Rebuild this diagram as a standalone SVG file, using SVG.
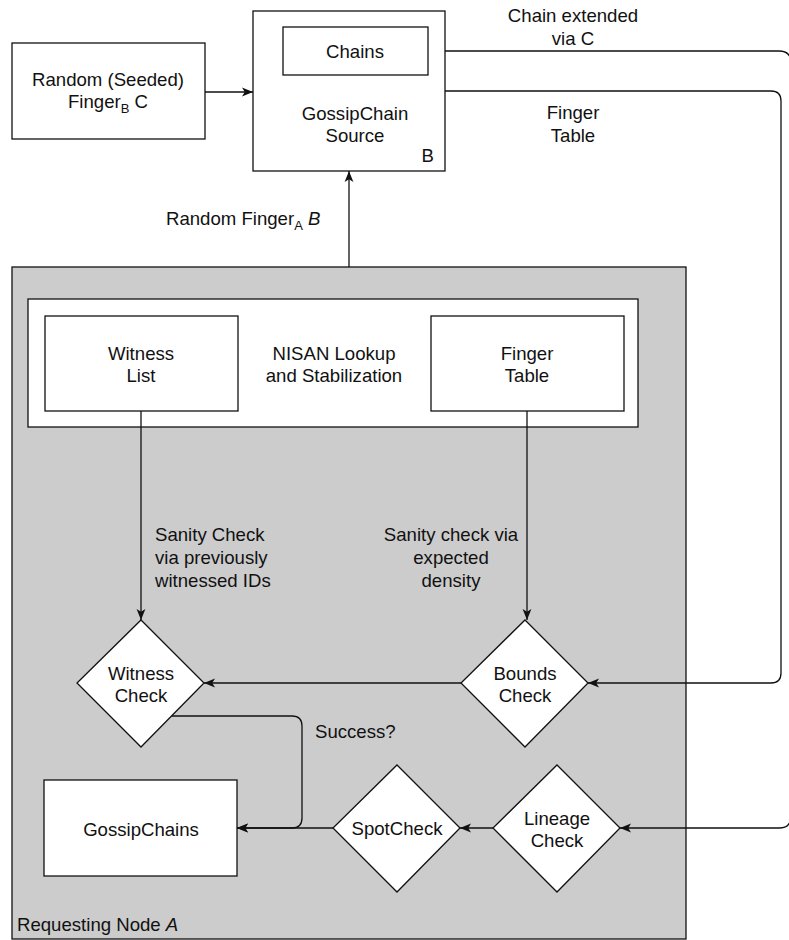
<svg xmlns="http://www.w3.org/2000/svg" width="789" height="940" viewBox="0 0 789 940">
  <style>
    text { font-family: "Liberation Sans", Arial, Helvetica, sans-serif; font-size: 18.6px; fill: #111; }
    .c { text-anchor: middle; }
    .box { fill: #ffffff; stroke: #111; stroke-width: 1.3; }
    .wire { fill: none; stroke: #111; stroke-width: 1.3; }
    .sub { font-size: 13px; }
  </style>
  <defs>
    <marker id="arrow" viewBox="0 0 10 10" refX="10" refY="5" markerWidth="11" markerHeight="11" markerUnits="userSpaceOnUse" orient="auto">
      <path d="M0,1 L10,5 L0,9 L2.5,5 Z" fill="#111"/>
    </marker>
  </defs>

  <rect width="789" height="940" fill="#ffffff"/>

  <!-- Requesting node container -->
  <g id="requesting-node">
    <rect x="12" y="267" width="674" height="672" fill="#cccccc" stroke="#111" stroke-width="1.3"/>
    <text x="17" y="931">Requesting Node <tspan font-style="italic">A</tspan></text>
  </g>

  <!-- Lookup/stabilization subsystem -->
  <g id="nisan">
    <rect class="box" x="28" y="299" width="610" height="128"/>
    <text class="c" x="334" y="360">NISAN Lookup</text>
    <text class="c" x="334" y="382">and Stabilization</text>
  </g>
  <g id="witness-list">
    <rect class="box" x="45" y="316" width="193" height="95"/>
    <text class="c" x="141" y="360">Witness</text>
    <text class="c" x="141" y="382">List</text>
  </g>
  <g id="finger-table">
    <rect class="box" x="431" y="316" width="193" height="95"/>
    <text class="c" x="527" y="360">Finger</text>
    <text class="c" x="527" y="382">Table</text>
  </g>

  <!-- Top row -->
  <g id="random-seeded">
    <rect class="box" x="12" y="43" width="193" height="96"/>
    <text class="c" x="108" y="86">Random (Seeded)</text>
    <text class="c" x="108" y="108">Finger<tspan class="sub" dy="5">B</tspan><tspan dy="-5"> C</tspan></text>
  </g>
  <g id="gossipchain-source">
    <rect class="box" x="253" y="11" width="192" height="160"/>
    <text class="c" x="355" y="120">GossipChain</text>
    <text class="c" x="355" y="142">Source</text>
    <text x="434" y="162" text-anchor="end">B</text>
  </g>
  <g id="chains">
    <rect class="box" x="283" y="27" width="145" height="48"/>
    <text class="c" x="355" y="58">Chains</text>
  </g>

  <!-- Decision diamonds -->
  <g id="witness-check">
    <polygon class="box" points="141,620 204,683 141,747 77,683"/>
    <text class="c" x="141" y="680">Witness</text>
    <text class="c" x="141" y="702">Check</text>
  </g>
  <g id="bounds-check">
    <polygon class="box" points="525,620 588,683 525,747 461,683"/>
    <text class="c" x="525" y="680">Bounds</text>
    <text class="c" x="525" y="702">Check</text>
  </g>
  <g id="spot-check">
    <polygon class="box" points="397,765 460,828 397,892 333,828"/>
    <text class="c" x="397" y="835">SpotCheck</text>
  </g>
  <g id="lineage-check">
    <polygon class="box" points="557,765 620,828 557,892 493,828"/>
    <text class="c" x="557" y="825">Lineage</text>
    <text class="c" x="557" y="847">Check</text>
  </g>
  <g id="gossipchains">
    <rect class="box" x="44" y="780" width="193" height="96"/>
    <text class="c" x="141" y="836">GossipChains</text>
  </g>

  <!-- Connectors -->
  <g id="connectors">
    <path class="wire" d="M205,92 H253" marker-end="url(#arrow)"/>
    <path class="wire" d="M349,267 V171" marker-end="url(#arrow)"/>
    <path class="wire" d="M445,51 H779 Q791,51 791,63 V816 Q791,828 779,828 H620" marker-end="url(#arrow)"/>
    <path class="wire" d="M445,91 H771 Q781,91 781,101 V673 Q781,683 771,683 H588" marker-end="url(#arrow)"/>
    <path class="wire" d="M141,411 V620" marker-end="url(#arrow)"/>
    <path class="wire" d="M527,411 V620" marker-end="url(#arrow)"/>
    <path class="wire" d="M461,683 H204" marker-end="url(#arrow)"/>
    <path class="wire" d="M172,716 H292 Q302,716 302,726 V818 Q302,828 292,828 H237" marker-end="url(#arrow)"/>
    <path class="wire" d="M333,828 H237" marker-end="url(#arrow)"/>
    <path class="wire" d="M493,828 H460" marker-end="url(#arrow)"/>
  </g>

  <!-- Connector labels -->
  <g id="labels">
    <text x="166" y="225">Random Finger<tspan class="sub" dy="5">A</tspan><tspan dy="-5"> </tspan><tspan font-style="italic">B</tspan></text>
    <text class="c" x="573" y="22">Chain extended</text>
    <text class="c" x="573" y="45">via C</text>
    <text class="c" x="573" y="119">Finger</text>
    <text class="c" x="573" y="142">Table</text>
    <text x="155" y="541">Sanity Check</text>
    <text x="155" y="564">via previously</text>
    <text x="155" y="587">witnessed IDs</text>
    <text class="c" x="451" y="541">Sanity check via</text>
    <text class="c" x="451" y="564">expected</text>
    <text class="c" x="451" y="587">density</text>
    <text x="315" y="738">Success?</text>
  </g>
</svg>
